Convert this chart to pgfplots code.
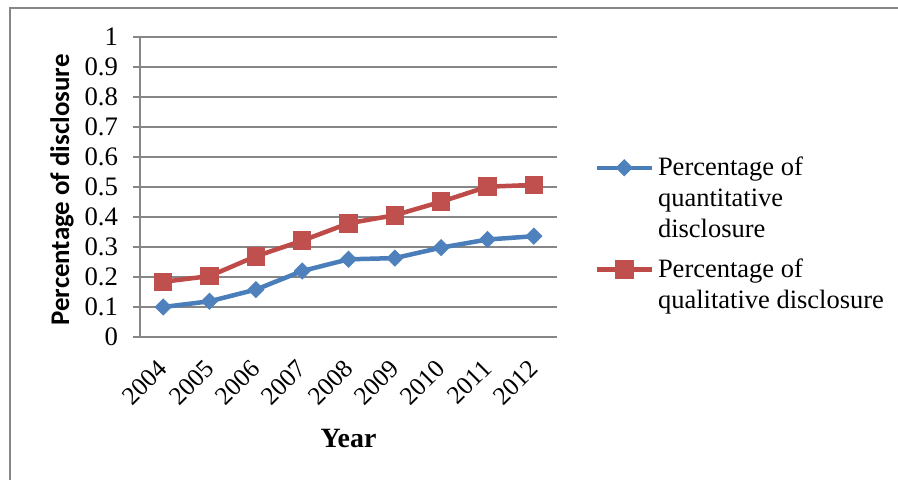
\documentclass[border=0pt]{standalone}
\usepackage{fontspec}
\setmainfont{Liberation Serif}
\newfontfamily\calibri{Carlito}
\usepackage{pgfplots}
\pgfplotsset{compat=1.18}
\definecolor{qblue}{HTML}{4A7EBB}
\definecolor{qbluem}{HTML}{4F81BD}
\definecolor{qred}{HTML}{BE4B48}
\definecolor{qredm}{HTML}{C0504D}
\definecolor{gridg}{HTML}{868686}
\begin{document}
\begin{tikzpicture}[x=1bp,y=1bp]
\begin{axis}[
  at={(0,0)}, anchor=south west,
  scale only axis, width=208.5bp, height=150bp,
  xmin=-0.5, xmax=8.5, ymin=0, ymax=1,
  xtick={0,...,8},
  xticklabels={2004,2005,2006,2007,2008,2009,2010,2011,2012},
  major x tick style={draw=none},
  extra x ticks={-0.5,0.5,1.5,2.5,3.5,4.5,5.5,6.5,7.5,8.5},
  extra x tick labels={},
  extra x tick style={major tick length=3.5bp, tick align=outside, tick style={draw=gridg, line width=0.75bp}, grid=none},
  ytick={0,0.1,...,1.01},
  yticklabels={0,0.1,0.2,0.3,0.4,0.5,0.6,0.7,0.8,0.9,1},
  ymajorgrids,
  grid style={draw=gridg, line width=0.75bp},
  y tick style={draw=gridg, line width=0.75bp},
  major tick length=3.5bp, tick align=outside,
  axis line style={draw=gridg, line width=0.75bp},
  axis x line*=bottom, axis y line*=left,
  yticklabel style={font=\fontsize{13.4}{15.5}\selectfont, xshift=-4bp},
  xticklabel style={font=\fontsize{12.8}{15}\selectfont, xshift=-3.2bp, yshift=-7bp, rotate=45, anchor=north east, inner sep=0bp},
  xlabel={Year},
  ylabel={Percentage of disclosure},
  xlabel style={font=\fontsize{14}{16}\selectfont\bfseries, at={(axis description cs:0.5,-0.337)}, anchor=center},
  ylabel style={font=\calibri\fontsize{13.5}{15}\selectfont\bfseries, at={(axis description cs:-0.187,0.49)}, anchor=center, rotate=0},
  legend style={at={(axis description cs:1.089,0.343)}, anchor=west, draw=none, fill=none, inner sep=0pt,
    font=\fontsize{13.3}{15.5}\selectfont, row sep=5bp,
    cells={align=left, inner sep=2bp}},
  legend cell align=left,
  clip=false,
]
\addplot[qblue, line width=2.25bp, mark=square*, mark size=2.8bp, mark options={rotate=45, fill=qbluem, draw=qbluem, line width=0.5bp},
  legend image code/.code={\draw[mark repeat=2,mark phase=2] plot coordinates {(0bp,15.5bp)(13.75bp,15.5bp)(27.5bp,15.5bp)};}]
  coordinates {(0,0.100)(1,0.119)(2,0.158)(3,0.220)(4,0.259)(5,0.263)(6,0.298)(7,0.325)(8,0.336)};
\addlegendentry{Percentage of\\quantitative\\disclosure}
\addplot[qred, line width=2.25bp, mark=square*, mark size=4.4bp, mark options={fill=qredm, draw=qredm, line width=0.5bp},
  legend image code/.code={\draw[mark repeat=2,mark phase=2] plot coordinates {(0bp,7.75bp)(13.75bp,7.75bp)(27.5bp,7.75bp)};}]
  coordinates {(0,0.184)(1,0.203)(2,0.269)(3,0.321)(4,0.379)(5,0.406)(6,0.451)(7,0.501)(8,0.507)};
\addlegendentry{Percentage of\\qualitative disclosure}
\end{axis}
\draw[draw=gridg, line width=0.75bp] (-65,-80) -- (-65,164.5) -- (390,164.5);
\pgfresetboundingbox
\useasboundingbox (-70,-71) rectangle (379,168.5);
\end{tikzpicture}
\end{document}
